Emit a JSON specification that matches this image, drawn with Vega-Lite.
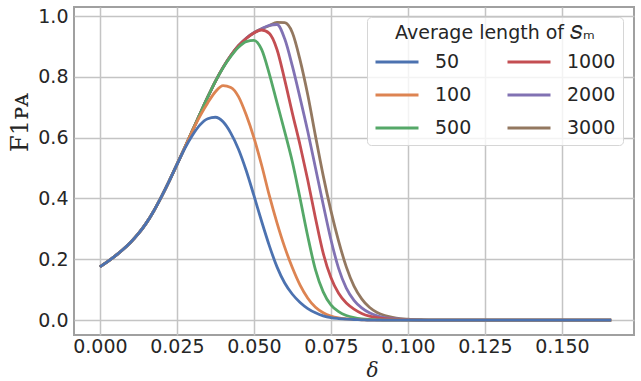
{
  "$schema": "https://vega.github.io/schema/vega-lite/v6.json",
  "width": 560,
  "height": 328,
  "autosize": {"type": "none"},
  "padding": {"left": 74, "top": 7, "right": 7, "bottom": 46},
  "background": "white",
  "config": {
    "view": {"stroke": "#a0a0a0", "strokeWidth": 2},
    "axis": {
      "labelFont": "DejaVu Sans",
      "labelFontSize": 19,
      "labelColor": "#262626",
      "ticks": false,
      "domain": false,
      "gridColor": "#c4c4c4",
      "gridWidth": 1.5,
      "titleColor": "#262626",
      "titleFontWeight": "normal"
    }
  },
  "data": {
    "values": [
      {"x": 0, "50": 0.175, "100": 0.175, "500": 0.175, "1000": 0.175, "2000": 0.175, "3000": 0.175},
      {"x": 0.0025, "50": 0.192, "100": 0.192, "500": 0.192, "1000": 0.192, "2000": 0.192, "3000": 0.192},
      {"x": 0.005, "50": 0.211, "100": 0.211, "500": 0.211, "1000": 0.211, "2000": 0.211, "3000": 0.211},
      {"x": 0.0075, "50": 0.232, "100": 0.232, "500": 0.232, "1000": 0.232, "2000": 0.232, "3000": 0.232},
      {"x": 0.01, "50": 0.256, "100": 0.256, "500": 0.256, "1000": 0.256, "2000": 0.256, "3000": 0.256},
      {"x": 0.0125, "50": 0.284, "100": 0.284, "500": 0.284, "1000": 0.284, "2000": 0.284, "3000": 0.284},
      {"x": 0.015, "50": 0.318, "100": 0.318, "500": 0.318, "1000": 0.318, "2000": 0.318, "3000": 0.318},
      {"x": 0.0175, "50": 0.359, "100": 0.359, "500": 0.359, "1000": 0.359, "2000": 0.359, "3000": 0.359},
      {"x": 0.02, "50": 0.406, "100": 0.406, "500": 0.406, "1000": 0.406, "2000": 0.406, "3000": 0.406},
      {"x": 0.0225, "50": 0.457, "100": 0.457, "500": 0.457, "1000": 0.457, "2000": 0.457, "3000": 0.457},
      {"x": 0.025, "50": 0.511, "100": 0.511, "500": 0.511, "1000": 0.511, "2000": 0.511, "3000": 0.511},
      {"x": 0.0275, "50": 0.563, "100": 0.566, "500": 0.566, "1000": 0.566, "2000": 0.566, "3000": 0.566},
      {"x": 0.03, "50": 0.607, "100": 0.621, "500": 0.622, "1000": 0.622, "2000": 0.622, "3000": 0.622},
      {"x": 0.0325, "50": 0.642, "100": 0.671, "500": 0.678, "1000": 0.678, "2000": 0.678, "3000": 0.678},
      {"x": 0.035, "50": 0.662, "100": 0.714, "500": 0.733, "1000": 0.733, "2000": 0.733, "3000": 0.733},
      {"x": 0.0375, "50": 0.667, "100": 0.751, "500": 0.785, "1000": 0.785, "2000": 0.785, "3000": 0.785},
      {"x": 0.04, "50": 0.652, "100": 0.771, "500": 0.83, "1000": 0.831, "2000": 0.831, "3000": 0.831},
      {"x": 0.0425, "50": 0.615, "100": 0.765, "500": 0.867, "1000": 0.87, "2000": 0.87, "3000": 0.87},
      {"x": 0.045, "50": 0.562, "100": 0.735, "500": 0.897, "1000": 0.902, "2000": 0.902, "3000": 0.902},
      {"x": 0.0475, "50": 0.492, "100": 0.675, "500": 0.916, "1000": 0.926, "2000": 0.927, "3000": 0.927},
      {"x": 0.05, "50": 0.41, "100": 0.6, "500": 0.92, "1000": 0.944, "2000": 0.945, "3000": 0.945},
      {"x": 0.0525, "50": 0.325, "100": 0.51, "500": 0.89, "1000": 0.954, "2000": 0.958, "3000": 0.958},
      {"x": 0.055, "50": 0.245, "100": 0.41, "500": 0.81, "1000": 0.943, "2000": 0.969, "3000": 0.968},
      {"x": 0.0575, "50": 0.175, "100": 0.32, "500": 0.715, "1000": 0.89, "2000": 0.972, "3000": 0.979},
      {"x": 0.06, "50": 0.122, "100": 0.24, "500": 0.62, "1000": 0.79, "2000": 0.925, "3000": 0.978},
      {"x": 0.0625, "50": 0.085, "100": 0.172, "500": 0.52, "1000": 0.68, "2000": 0.835, "3000": 0.945},
      {"x": 0.065, "50": 0.058, "100": 0.115, "500": 0.4, "1000": 0.575, "2000": 0.73, "3000": 0.855},
      {"x": 0.0675, "50": 0.038, "100": 0.072, "500": 0.275, "1000": 0.46, "2000": 0.62, "3000": 0.74},
      {"x": 0.07, "50": 0.024, "100": 0.042, "500": 0.165, "1000": 0.335, "2000": 0.5, "3000": 0.605},
      {"x": 0.0725, "50": 0.014, "100": 0.024, "500": 0.093, "1000": 0.22, "2000": 0.38, "3000": 0.475},
      {"x": 0.075, "50": 0.008, "100": 0.013, "500": 0.05, "1000": 0.14, "2000": 0.265, "3000": 0.36},
      {"x": 0.0775, "50": 0.005, "100": 0.007, "500": 0.028, "1000": 0.088, "2000": 0.17, "3000": 0.26},
      {"x": 0.08, "50": 0.003, "100": 0.004, "500": 0.015, "1000": 0.056, "2000": 0.105, "3000": 0.175},
      {"x": 0.0825, "50": 0.002, "100": 0.002, "500": 0.008, "1000": 0.036, "2000": 0.065, "3000": 0.112},
      {"x": 0.085, "50": 0.001, "100": 0.001, "500": 0.004, "1000": 0.022, "2000": 0.04, "3000": 0.07},
      {"x": 0.0875, "50": 0, "100": 0, "500": 0.002, "1000": 0.013, "2000": 0.024, "3000": 0.042},
      {"x": 0.09, "50": 0, "100": 0, "500": 0.001, "1000": 0.008, "2000": 0.014, "3000": 0.025},
      {"x": 0.0925, "50": 0, "100": 0, "500": 0, "1000": 0.005, "2000": 0.008, "3000": 0.015},
      {"x": 0.095, "50": 0, "100": 0, "500": 0, "1000": 0.003, "2000": 0.005, "3000": 0.009},
      {"x": 0.0975, "50": 0, "100": 0, "500": 0, "1000": 0.002, "2000": 0.003, "3000": 0.005},
      {"x": 0.1, "50": 0, "100": 0, "500": 0, "1000": 0.001, "2000": 0.002, "3000": 0.003},
      {"x": 0.105, "50": 0, "100": 0, "500": 0, "1000": 0, "2000": 0, "3000": 0.001},
      {"x": 0.11, "50": 0, "100": 0, "500": 0, "1000": 0, "2000": 0, "3000": 0},
      {"x": 0.166, "50": 0, "100": 0, "500": 0, "1000": 0, "2000": 0, "3000": 0}
    ]
  },
  "transform": [
    {"fold": ["3000", "2000", "1000", "500", "100", "50"], "as": ["s", "y"]}
  ],
  "mark": {"type": "line", "strokeWidth": 2.8, "interpolate": "monotone", "clip": true},
  "encoding": {
    "x": {
      "field": "x",
      "type": "quantitative",
      "scale": {"domain": [-0.0084, 0.1734], "nice": false, "zero": false},
      "axis": {
        "values": [0, 0.025, 0.05, 0.075, 0.1, 0.125, 0.15],
        "format": ".3f",
        "labelPadding": 2,
        "title": "δ",
        "titleFont": "DejaVu Serif",
        "titleFontStyle": "italic",
        "titleFontSize": 20,
        "titleX": 298,
        "titleY": 41,
        "titleBaseline": "alphabetic"
      }
    },
    "y": {
      "field": "y",
      "type": "quantitative",
      "scale": {"domain": [-0.049, 1.0296], "nice": false, "zero": false},
      "axis": {
        "values": [0, 0.2, 0.4, 0.6, 0.8, 1.0],
        "format": ".1f",
        "labelPadding": 6,
        "title": "F1ᴘᴀ",
        "titleFont": "DejaVu Serif",
        "titleFontSize": 24,
        "titleAngle": -90,
        "titleX": -54,
        "titleY": 115,
        "titleAlign": "center",
        "titleBaseline": "middle"
      }
    },
    "color": {
      "field": "s",
      "type": "nominal",
      "scale": {
        "domain": ["50", "100", "500", "1000", "2000", "3000"],
        "range": ["#4C72B0", "#DD8452", "#55A868", "#C44E52", "#8172B3", "#937860"]
      },
      "legend": {
        "title": "Average length of 𝑆ₘ",
        "orient": "none",
        "legendX": 293,
        "legendY": 10,
        "columns": 2,
        "columnPadding": 29,
        "rowPadding": -19,
        "symbolType": "stroke",
        "symbolSize": 1849,
        "symbolStrokeWidth": 3,
        "labelOffset": 15,
        "labelFont": "DejaVu Sans",
        "labelFontSize": 19,
        "labelColor": "#262626",
        "labelLimit": 200,
        "titleFont": "DejaVu Sans",
        "titleFontSize": 19,
        "titleFontWeight": "normal",
        "titleColor": "#262626",
        "titleLimit": 400,
        "titleAnchor": "middle",
        "titlePadding": -4,
        "padding": 7,
        "fillColor": "rgba(255,255,255,0.8)",
        "strokeColor": "#d6d6d6",
        "cornerRadius": 4
      }
    }
  }
}
